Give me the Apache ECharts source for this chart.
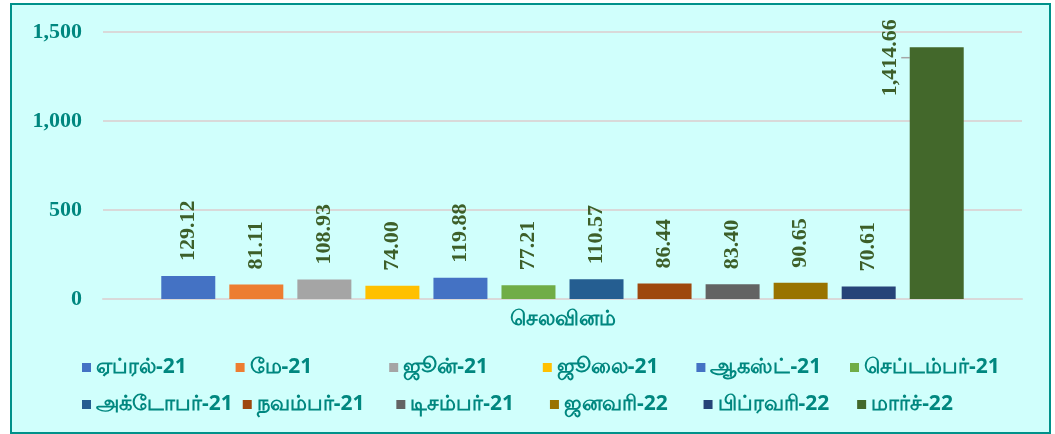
<!DOCTYPE html>
<html>
<head>
<meta charset="utf-8">
<script src="https://cdn.jsdelivr.net/npm/echarts@6/dist/echarts.min.js"></script>
<style>
  html, body { margin: 0; padding: 0; background: #ffffff; }
  #chart {
    position: absolute; left: 10px; top: 3px;
    width: 1037px; height: 427px;
    border: 2px solid #00918a;
    background: #d0fffc;
  }
</style>
</head>
<body>
<div id="chart"></div>
<script>
// Monthly expenditure, April 2021 – March 2022
const category = ['செலவினம்'];
const months = ['ஏப்ரல்-21', 'மே-21', 'ஜூன்-21', 'ஜூலை-21', 'ஆகஸ்ட்-21', 'செப்டம்பர்-21',
                'அக்டோபர்-21', 'நவம்பர்-21', 'டிசம்பர்-21', 'ஜனவரி-22', 'பிப்ரவரி-22', 'மார்ச்-22'];
const values = [129.12, 81.11, 108.93, 74.00, 119.88, 77.21, 110.57, 86.44, 83.40, 90.65, 70.61, 1414.66];
const yTicks = [0, 500, 1000, 1500];

const colors = ['#4472c4', '#ed7d31', '#a5a5a5', '#ffc000', '#4472c4', '#70ad47',
                '#255e91', '#9e480e', '#636363', '#997300', '#264478', '#43682b'];

const teal = '#00877f';
const labelGreen = '#3d5f29';
const serif = '"Liberation Serif", "Times New Roman", Times, serif';

function fmt(v) {
  return v.toLocaleString('en-US', { minimumFractionDigits: 2, maximumFractionDigits: 2 });
}

const series = months.map((name, i) => {
  const isLast = i === months.length - 1;
  const s = {
    name: name,
    type: 'bar',
    data: [values[i]],
    barWidth: 54,
    barGap: '26%',
    itemStyle: { color: colors[i] },
    label: {
      show: true,
      position: 'top',
      distance: 15,
      rotate: 90,
      align: 'left',
      verticalAlign: 'middle',
      formatter: p => fmt(p.value),
      color: labelGreen,
      fontFamily: serif,
      fontWeight: 'bold',
      fontSize: 22
    }
  };
  if (isLast) {
    // the tallest bar's label sits to its left, joined by a leader line
    // (offsets are in the rotated label's own frame)
    s.labelLayout = { dx: -64, dy: -46.5 };
    s.labelLine = { show: true, lineStyle: { color: '#a6a6a6', width: 1.5 } };
  }
  return s;
});

const chart = echarts.init(document.getElementById('chart'));
chart.setOption({
  animation: false,
  backgroundColor: 'transparent',
  grid: { left: 91, right: 27, top: 27, bottom: 133 },
  xAxis: {
    type: 'category',
    data: category,
    axisLine: { show: true, lineStyle: { color: '#d9d9d9', width: 2 } },
    axisTick: { show: false },
    axisLabel: {
      margin: 10,
      color: teal,
      fontSize: 21,
      fontWeight: 'bold',
      fontFamily: '"Noto Sans", sans-serif'
    }
  },
  yAxis: {
    type: 'value',
    min: yTicks[0],
    max: yTicks[yTicks.length - 1],
    interval: yTicks[1] - yTicks[0],
    axisLine: { show: false },
    axisTick: { show: false },
    splitLine: { lineStyle: { color: '#d9d9d9', width: 2 } },
    axisLabel: {
      margin: 21,
      color: teal,
      fontSize: 22,
      fontWeight: 'bold',
      fontFamily: serif,
      formatter: v => v.toLocaleString('en-US')
    }
  },
  legend: {
    data: months,
    left: 65,
    top: 344,
    width: 930,
    itemWidth: 9,
    itemHeight: 9,
    itemGap: 10,
    icon: 'rect',
    textStyle: {
      color: teal,
      fontSize: 21,
      fontWeight: 'bold',
      width: 129.6,
      lineHeight: 27,
      fontFamily: '"Noto Sans", sans-serif'
    }
  },
  series: series
});
</script>
</body>
</html>
